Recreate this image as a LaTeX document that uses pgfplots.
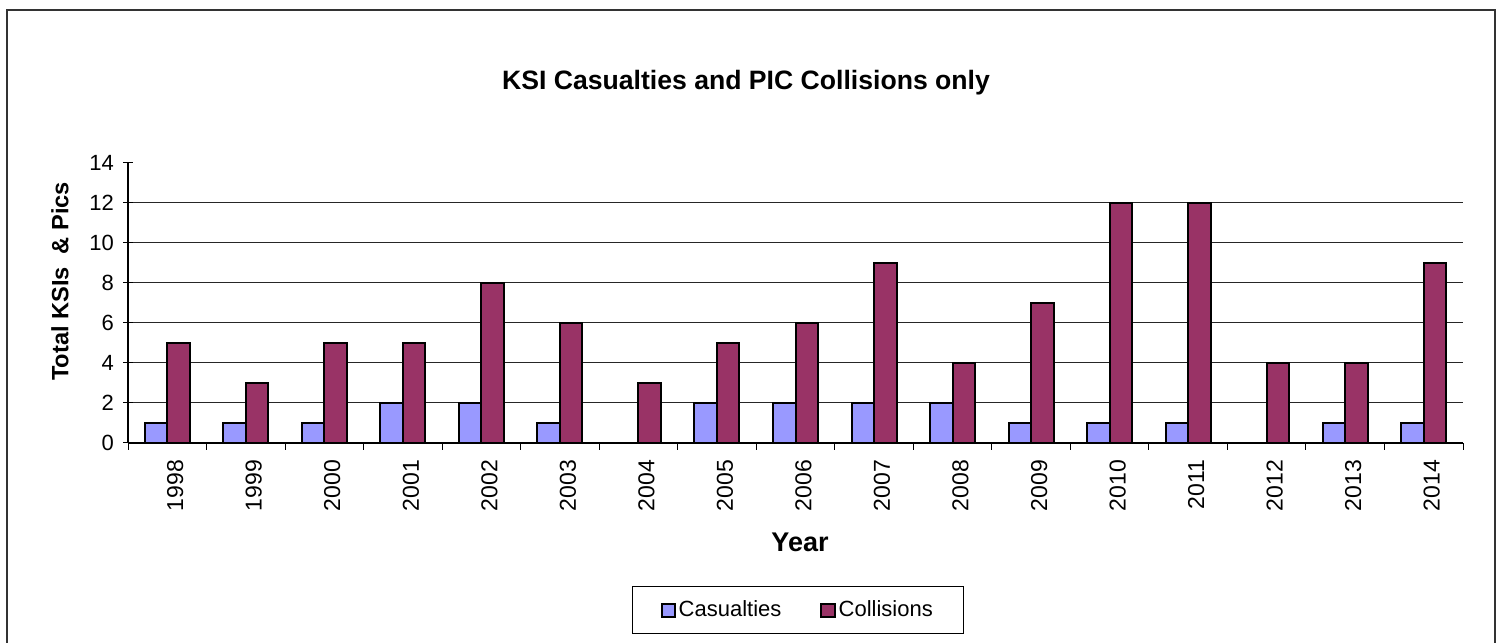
\documentclass[border=0pt]{standalone}
\usepackage{pgfplots}
\pgfplotsset{compat=1.18}
\usepackage{fontspec}
\setmainfont{Liberation Sans}

\definecolor{casblue}{HTML}{9999FF}
\definecolor{colred}{HTML}{993366}

\pgfplotstableread{
idx cas col
0  1 5
1  1 3
2  1 5
3  2 5
4  2 8
5  1 6
6  0 3
7  2 5
8  2 6
9  2 9
10 2 4
11 1 7
12 1 12
13 1 12
14 0 4
15 1 4
16 1 9
}\ksidata

\begin{document}
\begin{tikzpicture}
  \useasboundingbox (0,0) rectangle (750.5pt,321.5pt);
  % outer chart frame (bottom edge falls outside the picture)
  \draw[line width=0.8pt, black!80] (3.5pt,0) -- (3.5pt,316.5pt) -- (747.5pt,316.5pt) -- (747.5pt,0);
  \node[font=\bfseries\fontsize{13.3pt}{15pt}\selectfont] at (373pt,280.25pt)
    {KSI Casualties and PIC Collisions only};
  \node[font=\bfseries\fontsize{11.8pt}{13pt}\selectfont, rotate=90] at (30pt,180.75pt)
    {Total KSIs\ \ \& Pics};
  \node[font=\bfseries\fontsize{13.5pt}{15pt}\selectfont] at (400pt,50.5pt) {Year};

  \begin{axis}[
    at={(64pt,100pt)}, anchor=south west,
    scale only axis,
    width=667.5pt, height=140pt,
    ybar=0pt,
    bar width=11.25pt,
    xmin=-0.5, xmax=16.5,
    ymin=0, ymax=14,
    ytick={0,2,...,14},
    extra y ticks={2,4,...,12},
    extra y tick labels={},
    extra y tick style={grid=major},
    major grid style={black!85, line width=0.5pt},
    xtick={0,...,16},
    xticklabels={1998,1999,2000,2001,2002,2003,2004,2005,2006,2007,2008,2009,2010,2011,2012,2013,2014},
    minor xtick={-0.5,0.5,...,16.5},
    major x tick style={draw=none},
    x tick style={/pgfplots/tick align=outside},
    y tick style={/pgfplots/tick align=center},
    major tick length=5pt,
    minor tick length=3.5pt,
    axis x line*=bottom,
    axis y line*=left,
    axis line style={-, line width=0.6pt},
    tick style={black, line width=0.5pt},
    /pgf/number format/assume math mode=true,
    yticklabel style={font=\fontsize{11pt}{13pt}\selectfont, xshift=-3.5pt},
    xticklabel style={font=\fontsize{11.5pt}{13pt}\selectfont, rotate=90, anchor=east, yshift=-4pt},
    legend style={at={(0.502,-0.5975)}, anchor=center, legend columns=2,
      draw=black, line width=0.5pt, inner xsep=14pt, inner ysep=5pt,
      font=\fontsize{11pt}{13pt}\selectfont,
      nodes={inner xsep=1.5pt},
      /tikz/every even column/.append style={column sep=18pt}},
    legend image code/.code={\draw[#1, line width=1pt] (0pt,-3.3pt) rectangle (6.6pt,3.3pt);},
    legend cell align=left,
  ]
    \addplot[draw=black, line width=1pt, fill=casblue] table[x=idx, y=cas] {\ksidata};
    \addplot[draw=black, line width=1pt, fill=colred] table[x=idx, y=col] {\ksidata};
    \legend{Casualties, Collisions}
  \end{axis}
\end{tikzpicture}
\end{document}
